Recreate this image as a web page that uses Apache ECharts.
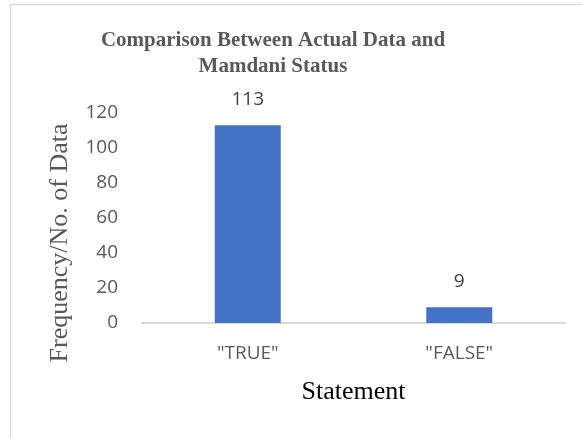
<!DOCTYPE html>
<html>
<head>
<meta charset="utf-8">
<style>
  html, body { margin: 0; padding: 0; background: #fff; }
  #chart { width: 582px; height: 438px; }
</style>
<script src="https://cdn.jsdelivr.net/npm/echarts@6/dist/echarts.min.js"></script>
</head>
<body>
<div id="chart"></div>
<script>
const categories = ['"TRUE"', '"FALSE"'];
const counts = [113, 9];

const chart = echarts.init(document.getElementById('chart'));

const option = {
  animation: false,
  title: {
    text: 'Comparison Between Actual Data and\nMamdani Status',
    left: 273,
    top: 28,
    padding: 0,
    textAlign: 'center',
    textStyle: {
      fontFamily: 'Liberation Serif',
      fontWeight: 'bold',
      fontSize: 21,
      lineHeight: 26,
      color: '#595959'
    }
  },
  graphic: [
    {
      // chart frame (only top and left edges are visible in the original)
      type: 'rect',
      shape: { x: 10.5, y: 4.5, width: 700, height: 600 },
      style: { fill: 'none', stroke: '#d9d9d9', lineWidth: 1.5 },
      silent: true
    },
    {
      type: 'text',
      x: 60,
      y: 243,
      rotation: Math.PI / 2,
      style: {
        text: 'Frequency/No. of Data',
        fontFamily: 'Liberation Serif',
        fontSize: 26,
        fill: '#595959',
        align: 'center',
        verticalAlign: 'middle'
      }
    }
  ],
  grid: { left: 142, right: 17, top: 113, bottom: 115 },
  xAxis: {
    type: 'category',
    data: categories,
    name: 'Statement',
    nameLocation: 'middle',
    nameGap: 56,
    nameTextStyle: { fontFamily: 'Liberation Serif', fontSize: 26, color: '#000' },
    axisLine: { lineStyle: { color: '#d9d9d9', width: 2 } },
    axisTick: { show: false },
    axisLabel: { fontFamily: 'Open Sans', fontSize: 19, color: '#595959', margin: 21 }
  },
  yAxis: {
    type: 'value',
    min: 0,
    max: 120,
    interval: 20,
    splitLine: { show: false },
    axisLine: { show: false },
    axisTick: { show: false },
    axisLabel: { fontFamily: 'Open Sans', fontSize: 19, color: '#595959', margin: 24 }
  },
  series: [
    {
      type: 'bar',
      data: counts,
      barWidth: 66,
      itemStyle: { color: '#4472c4' },
      label: {
        show: true,
        position: 'top',
        distance: 16,
        fontFamily: 'Open Sans',
        fontSize: 19,
        color: '#404040'
      }
    }
  ]
};

chart.setOption(option);
</script>
</body>
</html>
